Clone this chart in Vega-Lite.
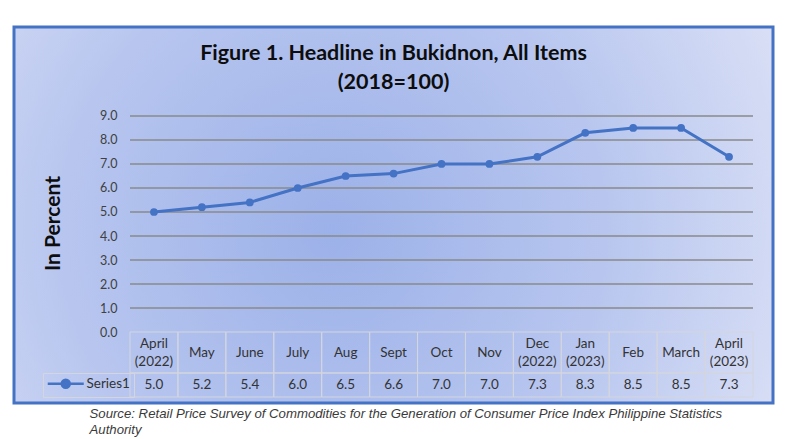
{
  "$schema": "https://vega.github.io/schema/vega-lite/v6.json",
  "autosize": "none",
  "padding": {"left": 14, "top": 27, "right": 24, "bottom": 36},
  "width": 759,
  "height": 376,
  "background": "white",
  "view": {
    "fill": {"gradient": "radial", "x1": 0.42, "y1": 0.52, "r1": 0, "x2": 0.42, "y2": 0.52, "r2": 0.72,
      "stops": [{"offset": 0, "color": "#9cb1e9"}, {"offset": 0.5, "color": "#b8c6ef"}, {"offset": 1, "color": "#e2e6f7"}]},
    "stroke": "#4472C4",
    "strokeWidth": 3
  },
  "config": {
    "axisY": {
      "orient": "left",
      "offset": -116,
      "format": ".1f",
      "domain": false,
      "ticks": false,
      "tickSize": 0,
      "labelPadding": 13,
      "labelFont": "Lato",
      "labelFontSize": 12.5,
      "labelColor": "#404040",
      "grid": false,
      "titleFont": "Lato",
      "titleFontSize": 21,
      "titleFontWeight": "bold",
      "titleColor": "#0d0d0d",
      "titleAngle": 270,
      "titleAlign": "center",
      "titleBaseline": "middle",
      "titleX": -77,
      "titleY": 196,
      "titleAnchor": null
    }
  },
  "title": {
    "text": ["Figure 1. Headline in Bukidnon, All Items", "(2018=100)"],
    "anchor": "middle",
    "frame": "group",
    "offset": -66,
    "font": "Lato",
    "fontSize": 21.5,
    "fontWeight": "bold",
    "color": "#0d0d0d",
    "lineHeight": 29
  },
  "data": {
    "values": [
      {"month": "April (2022)", "value": 5.0},
      {"month": "May", "value": 5.2},
      {"month": "June", "value": 5.4},
      {"month": "July", "value": 6.0},
      {"month": "Aug", "value": 6.5},
      {"month": "Sept", "value": 6.6},
      {"month": "Oct", "value": 7.0},
      {"month": "Nov", "value": 7.0},
      {"month": "Dec (2022)", "value": 7.3},
      {"month": "Jan (2023)", "value": 8.3},
      {"month": "Feb", "value": 8.5},
      {"month": "March", "value": 8.5},
      {"month": "April (2023)", "value": 7.3}
    ]
  },
  "encoding": {
    "x": {
      "field": "month",
      "type": "nominal",
      "sort": null,
      "scale": {
        "type": "band",
        "domain": ["April (2022)", "May", "June", "July", "Aug", "Sept", "Oct", "Nov", "Dec (2022)", "Jan (2023)", "Feb", "March", "April (2023)"],
        "range": [116, 739],
        "paddingInner": 0,
        "paddingOuter": 0
      },
      "axis": {
        "orient": "bottom",
        "labels": false,
        "ticks": false,
        "domain": false,
        "grid": false,
        "title": ["Source: Retail Price Survey of Commodities for the Generation of Consumer Price Index Philippine Statistics", "Authority"],
        "titleX": 75,
        "titleY": 14,
        "titleAnchor": null,
        "titleAlign": "left",
        "titleBaseline": "alphabetic",
        "titleFont": "Liberation Sans",
        "titleFontStyle": "italic",
        "titleFontWeight": "normal",
        "titleFontSize": 13.2,
        "titleColor": "#3a3a3a",
        "titleLineHeight": 16
      }
    }
  },
  "layer": [
    {
      "data": {"values": [{"level": 1}, {"level": 2}, {"level": 3}, {"level": 4}, {"level": 5}, {"level": 6}, {"level": 7}, {"level": 8}, {"level": 9}]},
      "mark": {"type": "rule", "color": "#8a8a8a", "strokeWidth": 1.3},
      "encoding": {
        "x": {"datum": "April (2022)", "type": "nominal", "bandPosition": 0},
        "x2": {"datum": "April (2023)", "bandPosition": 1},
        "y": {"field": "level", "type": "quantitative", "title": "In Percent", "axis": {"values": [0, 1, 2, 3, 4, 5, 6, 7, 8, 9]}}
      }
    },
    {
      "mark": {"type": "rect", "fill": null, "stroke": "#d4d6de", "strokeWidth": 1},
      "encoding": {
        "y": {"datum": 0, "type": "quantitative", "title": "In Percent", "axis": {"values": [0, 1, 2, 3, 4, 5, 6, 7, 8, 9]}},
        "y2": {"datum": -1.708}
      }
    },
    {
      "mark": {"type": "rect", "fill": null, "stroke": "#d4d6de", "strokeWidth": 1},
      "encoding": {
        "y": {"datum": -1.708, "type": "quantitative", "title": "In Percent", "axis": {"values": [0, 1, 2, 3, 4, 5, 6, 7, 8, 9]}},
        "y2": {"datum": -2.708}
      }
    },
    {
      "transform": [{"filter": {"not": {"field": "month", "oneOf": ["April (2022)", "Dec (2022)", "Jan (2023)", "April (2023)"]}}}],
      "mark": {"type": "text", "font": "Lato", "fontSize": 13.5, "color": "#333333", "baseline": "middle"},
      "encoding": {
        "y": {"datum": -0.854, "type": "quantitative", "title": "In Percent", "axis": {"values": [0, 1, 2, 3, 4, 5, 6, 7, 8, 9]}},
        "text": {"field": "month", "type": "nominal"}
      }
    },
    {
      "transform": [{"filter": {"field": "month", "oneOf": ["April (2022)", "Dec (2022)", "Jan (2023)", "April (2023)"]}}],
      "mark": {"type": "text", "font": "Lato", "fontSize": 13.5, "color": "#333333", "lineBreak": " ", "lineHeight": 18, "baseline": "middle", "dy": -9},
      "encoding": {
        "y": {"datum": -0.854, "type": "quantitative", "title": "In Percent", "axis": {"values": [0, 1, 2, 3, 4, 5, 6, 7, 8, 9]}},
        "text": {"field": "month", "type": "nominal"}
      }
    },
    {
      "mark": {"type": "text", "font": "Lato", "fontSize": 13.5, "color": "#333333", "baseline": "middle"},
      "encoding": {
        "y": {"datum": -2.208, "type": "quantitative", "title": "In Percent", "axis": {"values": [0, 1, 2, 3, 4, 5, 6, 7, 8, 9]}},
        "text": {"field": "value", "type": "quantitative", "format": ".1f"}
      }
    },
    {
      "mark": {"type": "line", "strokeWidth": 3},
      "encoding": {
        "y": {
          "field": "value",
          "type": "quantitative",
          "title": "In Percent",
          "axis": {"values": [0, 1, 2, 3, 4, 5, 6, 7, 8, 9]},
          "scale": {"domain": [-2.958, 12.708], "nice": false, "zero": false}
        },
        "color": {
          "datum": "Series1",
          "type": "nominal",
          "scale": {"range": ["#4472C4"]},
          "legend": {
            "orient": "none",
            "legendX": 29,
            "legendY": 346,
            "title": null,
            "strokeColor": "#d4d6de",
            "padding": 4,
            "symbolType": "M-1.2,0L6,0M1.6,0A0.8,0.8,0,1,1,3.2,0A0.8,0.8,0,1,1,1.6,0Z",
            "symbolSize": 100,
            "symbolStrokeWidth": 2.5,
            "symbolFillColor": "#4472C4",
            "symbolStrokeColor": "#4472C4",
            "labelOffset": 26,
            "labelFont": "Lato",
            "labelFontSize": 13.5,
            "labelColor": "#333333"
          }
        }
      }
    },
    {
      "mark": {"type": "point", "filled": true, "size": 60, "opacity": 1},
      "encoding": {
        "y": {"field": "value", "type": "quantitative", "title": "In Percent", "axis": {"values": [0, 1, 2, 3, 4, 5, 6, 7, 8, 9]}},
        "color": {"datum": "Series1", "type": "nominal"}
      }
    }
  ]
}
